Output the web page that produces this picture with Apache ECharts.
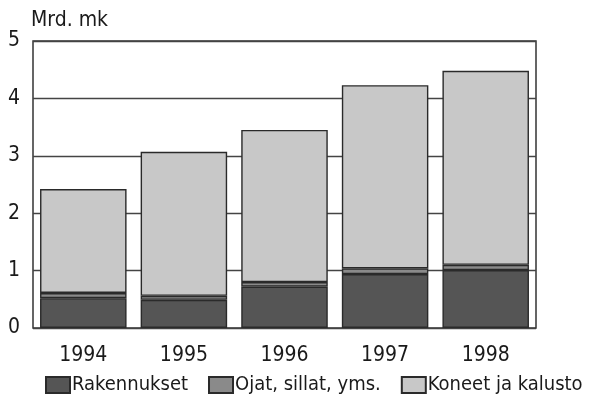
<!DOCTYPE html>
<html>
<head>
<meta charset="utf-8">
<script src="https://cdn.jsdelivr.net/npm/echarts@6/dist/echarts.min.js"></script>
<style>
  html, body { margin: 0; padding: 0; background: #fff; }
  #chart { width: 610px; height: 403px; }
</style>
</head>
<body>
<div id="chart"></div>
<script>
var years = ['1994', '1995', '1996', '1997', '1998'];
var rakennukset = [0.52, 0.49, 0.72, 0.94, 1.01];
var ojat = [0.09, 0.07, 0.08, 0.10, 0.09];
var koneet = [1.81, 2.51, 2.65, 3.19, 3.38];

var font = '"DejaVu Sans Condensed", "Liberation Sans Narrow", sans-serif';

var chart = echarts.init(document.getElementById('chart'));

function barSeries(name, data, color) {
    return {
        name: name,
        type: 'bar',
        stack: 'total',
        data: data,
        barCategoryGap: '14%',
        itemStyle: { color: color, borderColor: '#2a2a2a', borderWidth: 1.4 }
    };
}

chart.setOption({
    animation: false,
    textStyle: { fontFamily: font },
    grid: {
        left: 33, right: 74, top: 41, bottom: 75,
        show: true, borderColor: '#333', borderWidth: 1.5
    },
    legend: {
        bottom: 3, left: 40,
        icon: 'rect',
        itemWidth: 24, itemHeight: 16, itemGap: 20,
        textStyle: { fontSize: 20, color: '#1a1a1a', fontFamily: font, padding: [0, 0, 0, -3] },
        data: ['Rakennukset', 'Ojat, sillat, yms.', 'Koneet ja kalusto']
    },
    xAxis: {
        type: 'category',
        data: years,
        axisLine: { show: false },
        axisTick: { show: false },
        axisLabel: { fontSize: 21, color: '#1a1a1a', margin: 17, fontFamily: font }
    },
    yAxis: {
        type: 'value',
        min: 0, max: 5, interval: 1,
        name: 'Mrd. mk',
        nameGap: 10,
        nameTextStyle: { fontSize: 21, color: '#1a1a1a', align: 'left', padding: [0, 0, 0, -2], fontFamily: font },
        axisLine: { show: false },
        axisTick: { show: false },
        axisLabel: { fontSize: 21, color: '#1a1a1a', margin: 13, fontFamily: font },
        splitLine: { lineStyle: { color: '#444', width: 1.3 } }
    },
    series: [
        barSeries('Rakennukset', rakennukset, '#555555'),
        barSeries('Ojat, sillat, yms.', ojat, '#8a8a8a'),
        barSeries('Koneet ja kalusto', koneet, '#c8c8c8')
    ]
});

window.addEventListener('resize', function () {
    chart.resize();
});
</script>
</body>
</html>
